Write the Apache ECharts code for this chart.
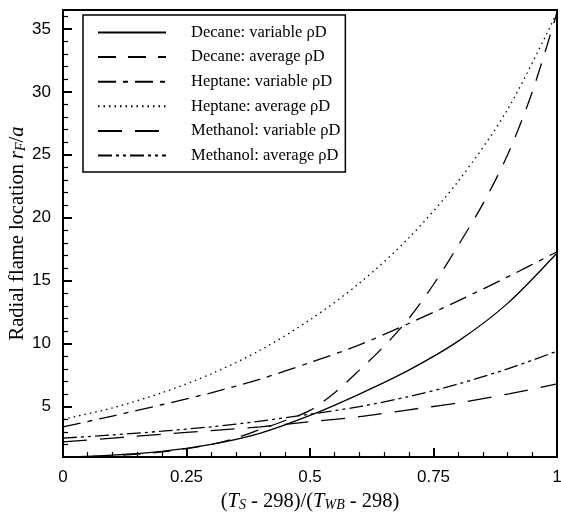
<!DOCTYPE html>
<html>
<head>
<meta charset="utf-8">
<script src="https://cdn.jsdelivr.net/npm/echarts@6/dist/echarts.min.js"></script>
<style>
html,body{margin:0;padding:0;background:#fff;}
#chart{width:561px;height:520px;}
</style>
</head>
<body>
<div id="chart"></div>
<script>
// ---- data ----
const xs = [0, 0.1, 0.2, 0.3, 0.4, 0.5, 0.6, 0.7, 0.8, 0.9, 1.0];
const decaneVar   = [1.0, 1.15, 1.45, 2.0, 2.9, 4.3, 6.0, 7.9, 10.2, 13.2, 17.2];
const decaneAvgX  = [0, 0.1, 0.2, 0.3, 0.35, 0.4, 0.45, 0.5, 0.55, 0.6, 0.65, 0.7, 0.75, 0.8, 0.85, 0.9, 0.95, 1.0];
const decaneAvg   = [1.0, 1.1, 1.4, 2.0, 2.5, 3.2, 3.9, 4.7, 6.1, 7.9, 9.8, 12.0, 14.7, 17.8, 21.1, 25.0, 30.0, 36.3];
const heptaneVar  = [3.4, 4.25, 5.15, 6.1, 7.2, 8.5, 9.9, 11.6, 13.4, 15.3, 17.3];
const heptaneAvg  = [4.0, 4.9, 6.1, 7.6, 9.5, 11.9, 14.8, 18.4, 22.9, 28.6, 36.3];
const methanolVar = [2.2, 2.5, 2.8, 3.1, 3.4, 3.8, 4.2, 4.75, 5.3, 6.0, 6.8];
const methanolAvg = [2.5, 2.75, 3.05, 3.4, 3.85, 4.4, 5.0, 5.8, 6.8, 8.0, 9.4];
const seriesNames = ['Decane: variable ρD', 'Decane: average ρD', 'Heptane: variable ρD',
                     'Heptane: average ρD', 'Methanol: variable ρD', 'Methanol: average ρD'];
const yMajorTicks = [5, 10, 15, 20, 25, 30, 35];
const yMinorTicks = [2,3,4,6,7,8,9,11,12,13,14,16,17,18,19,21,22,23,24,26,27,28,29,31,32,33,34,36];

const pairs = (x, y) => x.map((v, i) => [v, y[i]]);
const serif = '"Liberation Serif", "DejaVu Serif", serif';
const sans = '"Liberation Sans", Arial, sans-serif';

const styles = [
  'solid',
  [18, 12],
  [18, 7, 5, 7],
  [1.5, 4],
  [24, 13],
  [14, 4, 3, 4, 3, 4]
];
const dataSets = [
  pairs(xs, decaneVar), pairs(decaneAvgX, decaneAvg), pairs(xs, heptaneVar),
  pairs(xs, heptaneAvg), pairs(xs, methanolVar), pairs(xs, methanolAvg)
];

const titleRich = {
  p: {fontFamily: serif, fontSize: 20.5, color: '#000'},
  i: {fontFamily: serif, fontSize: 20.5, fontStyle: 'italic', color: '#000'},
  s: {fontFamily: serif, fontSize: 14, fontStyle: 'italic', color: '#000', verticalAlign: 'bottom', lineHeight: 13}
};

const chart = echarts.init(document.getElementById('chart'), null, {renderer: 'canvas'});
chart.setOption({
  animation: false,
  backgroundColor: '#fff',
  grid: {left: 63, right: 4, top: 10, bottom: 63, show: true, borderColor: '#000', borderWidth: 2,
         backgroundColor: 'transparent', containLabel: false, outerBoundsMode: 'none'},
  legend: {
    orient: 'vertical', left: 83, top: 15,
    data: seriesNames,
    itemWidth: 68, itemHeight: 14, itemGap: 7.6,
    padding: [9, 5, 8, 14],
    borderColor: '#000', borderWidth: 1.5, backgroundColor: '#fff',
    itemStyle: {opacity: 0},
    textStyle: {fontFamily: serif, fontSize: 16.5, color: '#000', padding: [0, 0, 0, 20]}
  },
  xAxis: {
    type: 'value', min: 0, max: 1, interval: 0.25,
    name: '{p|(}{i|T}{s|S}{p| - 298)/(}{i|T}{s|WB}{p| - 298)}',
    nameLocation: 'middle', nameGap: 34,
    nameTextStyle: {rich: titleRich},
    axisLine: {lineStyle: {color: '#000', width: 2}},
    axisTick: {inside: true, length: 9, lineStyle: {color: '#000', width: 2}},
    minorTick: {show: true, splitNumber: 5, length: 5, lineStyle: {color: '#000', width: 1.2}},
    splitLine: {show: false},
    axisLabel: {fontFamily: sans, fontSize: 17, color: '#000', margin: 12}
  },
  yAxis: [{
    type: 'value', min: 1, max: 36.5,
    name: '{p|Radial flame location }{i|r}{s|F}{p|/}{i|a}',
    nameLocation: 'middle', nameGap: 35, nameRotate: 90, nameMoveOverlap: false,
    nameTextStyle: {rich: titleRich},
    axisLine: {lineStyle: {color: '#000', width: 2}},
    axisTick: {inside: true, length: 9, customValues: yMajorTicks, lineStyle: {color: '#000', width: 2}},
    axisLabel: {fontFamily: sans, fontSize: 17, color: '#000', margin: 12, customValues: yMajorTicks},
    splitLine: {show: false}
  }, {
    type: 'value', min: 1, max: 36.5, position: 'left',
    axisLine: {show: false},
    axisTick: {inside: true, length: 5, customValues: yMinorTicks, lineStyle: {color: '#000', width: 1.2}},
    axisLabel: {show: false, customValues: yMinorTicks},
    splitLine: {show: false}
  }],
  series: seriesNames.map((name, i) => ({
    name, type: 'line', data: dataSets[i], yAxisIndex: 0,
    symbol: 'none', smooth: 0.3,
    lineStyle: {color: '#000', width: 1.3, type: styles[i]},
    itemStyle: {color: '#000'},
    z: 2
  }))
});
</script>
</body>
</html>
